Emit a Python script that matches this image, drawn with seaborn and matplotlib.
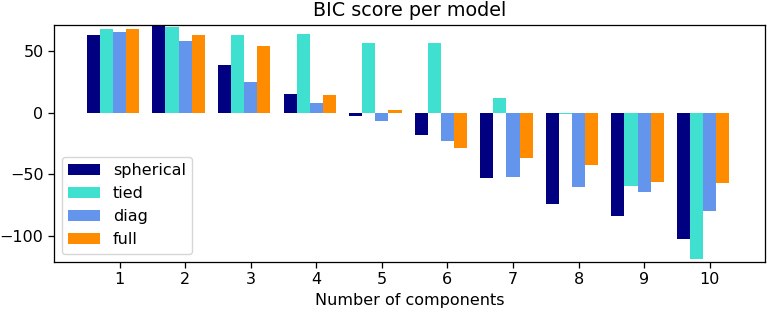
import numpy as np
import pandas as pd
import matplotlib
matplotlib.use("Agg")
import matplotlib.pyplot as plt
import seaborn as sns

n_components = [1, 2, 3, 4, 5, 6, 7, 8, 9, 10]
cv_types = ["spherical", "tied", "diag", "full"]
colors = ["navy", "turquoise", "cornflowerblue", "darkorange"]

spherical = [63.4, 71.8, 38.6, 15.3, -2.4, -17.6, -53.0, -73.7, -83.7, -102.8]
tied = [68.0, 69.6, 63.4, 64.2, 56.9, 56.6, 12.0, -0.8, -59.8, -119.1]
diag = [65.8, 58.2, 24.8, 7.7, -6.5, -22.5, -52.2, -60.6, -64.4, -79.9]
full = [68.0, 63.6, 54.2, 14.4, 2.8, -28.2, -37.0, -42.7, -56.5, -57.3]

rows = []
for name, vals in zip(cv_types, [spherical, tied, diag, full]):
    for n, v in zip(n_components, vals):
        rows.append({"n": n, "bic": v, "cv_type": name})
df = pd.DataFrame(rows)
bic = df["bic"].to_numpy()

# reference looks like a slightly upscaled render, so bump sizes
scale = 1.15
plt.rcParams.update({
    "font.size": 10 * scale,
    "axes.titlesize": 12 * scale,
    "axes.labelsize": 10 * scale,
    "xtick.labelsize": 10 * scale,
    "ytick.labelsize": 10 * scale,
    "legend.fontsize": 10 * scale,
    "axes.linewidth": 0.8 * scale,
    "xtick.major.width": 0.8 * scale,
    "ytick.major.width": 0.8 * scale,
    "xtick.major.size": 3.5 * scale,
    "ytick.major.size": 3.5 * scale,
})

fig = plt.figure(figsize=(7.67, 3.12), dpi=100)
ax = fig.add_axes([0.0704, 0.161, 0.9276, 0.76])

sns.barplot(
    data=df,
    x="n",
    y="bic",
    hue="cv_type",
    hue_order=cv_types,
    palette=colors,
    saturation=1,
    errorbar=None,
    width=0.8,
    linewidth=0,
    ax=ax,
)

# matplotlib example puts the tick under the third bar of each group
ax.set_xticks(np.arange(len(n_components)) + 0.1, [str(n) for n in n_components])
ax.set_xlim(-0.9, 9.95)
ax.set_ylim(bic.min() * 1.01 - 0.01 * bic.max(), bic.max())
ax.set_yticks([-100, -50, 0, 50])
ax.set_title("BIC score per model")
ax.set_xlabel("Number of components")
ax.set_ylabel("")
ax.legend(loc="lower left", title=None)

fig.savefig("out.png", dpi=100)
